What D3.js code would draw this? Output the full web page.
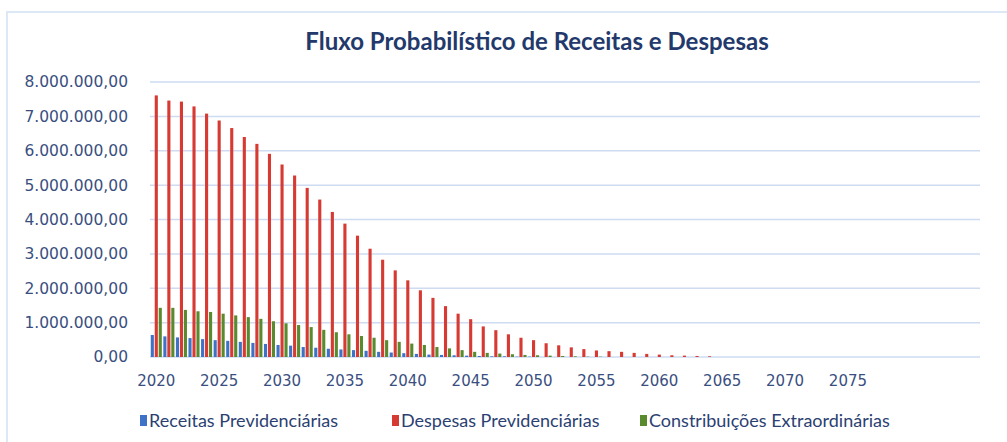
<!DOCTYPE html>
<html>
<head>
<meta charset="utf-8">
<script src="https://cdn.jsdelivr.net/npm/d3@7"></script>
<style>
  body { margin: 0; background: #fff; }
  svg { display: block; font-family: Lato, "Open Sans", sans-serif; }
</style>
</head>
<body>
<div id="chart"></div>
<script>
// data (values in R$)
var anos = d3.range(2020, 2086);
var receitas = [640000, 600000, 570000, 550000, 520000, 490000, 470000, 440000, 410000, 380000,
  350000, 330000, 290000, 270000, 240000, 220000, 200000, 180000, 150000, 130000,
  110000, 90000, 70000, 60000, 50000, 40000, 30000, 20000, 20000, 10000, 10000];
var despesas = [7610000, 7460000, 7430000, 7290000, 7080000, 6880000, 6660000, 6400000, 6200000, 5910000,
  5600000, 5280000, 4920000, 4580000, 4220000, 3880000, 3530000, 3150000, 2830000, 2520000,
  2230000, 1940000, 1720000, 1480000, 1260000, 1100000, 890000, 780000, 660000, 560000,
  490000, 400000, 340000, 280000, 230000, 190000, 170000, 150000, 120000, 90000,
  70000, 50000, 40000, 30000, 20000];
var contribuicoes = [1430000, 1430000, 1370000, 1330000, 1310000, 1260000, 1210000, 1160000, 1110000, 1040000,
  980000, 930000, 870000, 790000, 720000, 660000, 610000, 560000, 490000, 440000,
  390000, 350000, 290000, 250000, 200000, 150000, 120000, 100000, 80000, 60000,
  50000, 40000, 30000, 20000, 10000, 10000];
var series = ["Receitas Previdenciárias", "Despesas Previdenciárias", "Constribuições Extraordinárias"];
var cores = ["#3d72c6", "#d63a33", "#5a8a2e"];
var yTicks = d3.range(0, 8000001, 1000000);
var xLabels = d3.range(2020, 2076, 5);

var width = 1007, height = 442;
var svg = d3.select("#chart").append("svg")
    .attr("width", width)
    .attr("height", height);

// chart frame
svg.append("rect")
    .attr("x", 7).attr("y", 12)
    .attr("width", 1010).attr("height", 440)
    .attr("fill", "none")
    .attr("stroke", "#dce8f6")
    .attr("stroke-width", 2);

svg.append("text")
    .attr("x", 537).attr("y", 50)
    .attr("text-anchor", "middle")
    .attr("font-size", 24)
    .attr("font-weight", "bold")
    .attr("fill", "#23396b")
    .text("Fluxo Probabilístico de Receitas e Despesas");

// plot area (don't call these top/left: window.top is read only)
var plotL = 150, plotR = 980, plotT = 82, plotB = 357;

var x = d3.scaleBand().domain(anos).range([plotL, plotR]).paddingInner(0.12).paddingOuter(0.06);
var xs = d3.scaleBand().domain(d3.range(3)).range([0, x.bandwidth()]).paddingInner(0.22);
var y = d3.scaleLinear().domain([0, 8000000]).range([plotB, plotT]);

var br = d3.formatLocale({decimal: ",", thousands: ".", grouping: [3], currency: ["R$", ""]});
var fmt = br.format(",.2f");

// gridlines
svg.append("g").selectAll("line")
    .data(yTicks)
    .join("line")
    .attr("x1", plotL).attr("x2", plotR)
    .attr("y1", function(d) { return y(d); })
    .attr("y2", function(d) { return y(d); })
    .attr("stroke", "#cddcf1")
    .attr("stroke-width", 1.5);

// y axis labels
var yAxis = svg.append("g")
    .attr("transform", "translate(128,0)")
    .call(d3.axisLeft(y).tickValues(yTicks).tickFormat(fmt).tickSize(0).tickPadding(0));
yAxis.select(".domain").remove();
yAxis.selectAll("text")
    .attr("font-family", "'DejaVu Sans', sans-serif")
    .attr("font-size", 15.5)
    .attr("fill", "#3a4f80");

// x axis labels
var xAxis = svg.append("g")
    .attr("transform", "translate(0," + plotB + ")")
    .call(d3.axisBottom(x).tickValues(xLabels).tickSize(0).tickPadding(18));
xAxis.select(".domain").remove();
xAxis.selectAll("text")
    .attr("font-family", "'DejaVu Sans', sans-serif")
    .attr("font-size", 15)
    .attr("fill", "#3a4f80");

// bars
var dados = [receitas, despesas, contribuicoes];
dados.forEach(function(valores, s) {
  svg.append("g")
      .attr("fill", cores[s])
      .selectAll("rect")
      .data(valores)
      .join("rect")
      .attr("x", function(d, i) { return x(anos[i]) + xs(s); })
      .attr("width", xs.bandwidth())
      .attr("y", function(d) { return y(d); })
      .attr("height", function(d) { return plotB - y(d); });
});

// legend
var legX = [140, 392, 640];
var leg = svg.append("g").selectAll("g")
    .data(series)
    .join("g")
    .attr("transform", function(d, i) { return "translate(" + legX[i] + ",427)"; });
leg.append("rect")
    .attr("x", 0).attr("y", -12)
    .attr("width", 7).attr("height", 11)
    .attr("fill", function(d, i) { return cores[i]; });
leg.append("text")
    .attr("x", 9).attr("y", 0)
    .attr("font-size", 18)
    .attr("fill", "#2c3f72")
    .text(function(d) { return d; });
</script>
</body>
</html>
